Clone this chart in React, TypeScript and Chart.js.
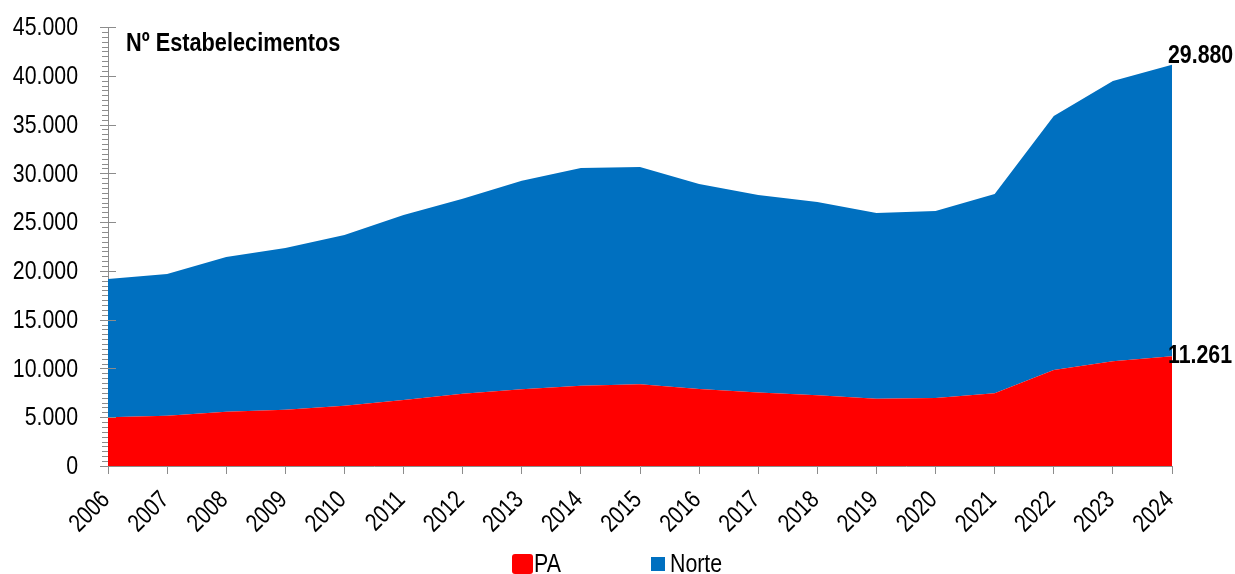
import React, { useEffect, useRef } from 'react';
import { Chart, registerables } from 'chart.js';

Chart.register(...registerables);

const years = ['2006', '2007', '2008', '2009', '2010', '2011', '2012', '2013', '2014', '2015', '2016', '2017', '2018', '2019', '2020', '2021', '2022', '2023', '2024'];
const paValues = [4990, 5160, 5570, 5770, 6180, 6770, 7400, 7880, 8230, 8380, 7900, 7540, 7260, 6900, 6980, 7450, 9840, 10750, 11261];
const norteValues = [14180, 14520, 15850, 16580, 17500, 18960, 20000, 21370, 22320, 22270, 21010, 20240, 19800, 19030, 19160, 20430, 26040, 28710, 29880];
const seriesLabels = ['PA', 'Norte'];
const seriesColors = ['#FF0000', '#0070C0'];
const chartTitle = 'Nº Estabelecimentos';
const yMin = 0;
const yMax = 45000;
const yMajorStep = 5000;
const yMinorStep = 500;

const FONT = "'Liberation Sans', Arial, sans-serif";
const NARROW = 0.82;
const AXIS = '#8C8C8C';

const fmt = (v: number) => String(Math.round(v)).replace(/\B(?=(\d{3})+(?!\d))/g, '.');

function narrowText(ctx: CanvasRenderingContext2D, text: string, x: number, y: number, font: string, align: CanvasTextAlign, baseline: CanvasTextBaseline, rot = 0) {
  ctx.save();
  ctx.translate(x, y);
  if (rot) ctx.rotate(rot);
  ctx.scale(NARROW, 1);
  ctx.font = font;
  ctx.textAlign = align;
  ctx.textBaseline = baseline;
  ctx.fillStyle = '#000';
  ctx.fillText(text, 0, 0);
  ctx.restore();
}

const decor = {
  id: 'decor',
  afterDraw(chart: any) {
    const { ctx, chartArea, scales } = chart;
    const y = scales.y;
    const x = scales.x;
    ctx.save();
    ctx.strokeStyle = AXIS;
    ctx.lineWidth = 1;
    for (let v = yMin; v <= yMax; v += yMinorStep) {
      const py = Math.round(y.getPixelForValue(v)) + 0.5;
      const major = v % yMajorStep === 0;
      ctx.beginPath();
      ctx.moveTo(chartArea.left - (major ? 8 : 6), py);
      ctx.lineTo(chartArea.left + (major ? 8 : 0), py);
      ctx.stroke();
    }
    // y tick labels
    y.ticks.forEach((t: any) => {
      narrowText(ctx, fmt(t.value), chartArea.left - 30, y.getPixelForValue(t.value) + 1, `26px ${FONT}`, 'right', 'middle');
    });
    // x tick labels
    years.forEach((lab, i) => {
      const px = x.getPixelForValue(i);
      narrowText(ctx, lab, px - 2, chartArea.bottom + 30, `25px ${FONT}`, 'right', 'middle', -Math.PI / 4);
    });
    // title
    narrowText(ctx, chartTitle, chartArea.left + 18, chartArea.top + 17, `bold 26.5px ${FONT}`, 'left', 'middle');

    // end labels
    const last = years.length - 1;
    const pPA = chart.getDatasetMeta(0).data[last];
    const pN = chart.getDatasetMeta(1).data[last];
    narrowText(ctx, fmt(paValues[last]), pPA.x - 4, pPA.y, `bold 26px ${FONT}`, 'left', 'middle');
    narrowText(ctx, fmt(norteValues[last]), pN.x - 4, pN.y + 4, `bold 26px ${FONT}`, 'left', 'bottom');

    // legend
    const ly = 564;
    ctx.fillStyle = seriesColors[0];
    ctx.beginPath();
    if ((ctx as any).roundRect) (ctx as any).roundRect(512, ly - 10, 21, 20, 3);
    else ctx.rect(512, ly - 10, 21, 20);
    ctx.fill();
    narrowText(ctx, seriesLabels[0], 534, ly + 1, `26px ${FONT}`, 'left', 'middle');
    ctx.fillStyle = seriesColors[1];
    ctx.fillRect(651, ly - 7, 14, 14);
    narrowText(ctx, seriesLabels[1], 670, ly + 1, `26px ${FONT}`, 'left', 'middle');
    ctx.restore();
  },
};

export default function App() {
  const ref = useRef<HTMLCanvasElement | null>(null);
  useEffect(() => {
    if (!ref.current) return;
    const chart = new Chart(ref.current, {
      type: 'line',
      data: {
        labels: years,
        datasets: [
          {
            label: seriesLabels[0],
            data: paValues,
            backgroundColor: seriesColors[0],
            borderColor: seriesColors[0],
            borderWidth: 0,
            pointRadius: 0,
            fill: 'origin',
            tension: 0,
          },
          {
            label: seriesLabels[1],
            data: norteValues,
            backgroundColor: seriesColors[1],
            borderColor: seriesColors[1],
            borderWidth: 0,
            pointRadius: 0,
            fill: '-1',
            tension: 0,
          },
        ],
      },
      options: {
        animation: false,
        responsive: true,
        maintainAspectRatio: false,
        layout: { padding: { left: 8, right: 63, top: 27, bottom: 0 } },
        plugins: { legend: { display: false }, tooltip: { enabled: false }, title: { display: false } },
        scales: {
          x: {
            type: 'category',
            offset: false,
            grid: { display: true, drawOnChartArea: false, drawTicks: true, tickLength: 8, color: AXIS },
            border: { display: true, color: AXIS, width: 1 },
            ticks: { display: false, autoSkip: false },
            afterFit: (s: any) => { s.height = 108; },
          },
          y: {
            stacked: true,
            min: yMin,
            max: yMax,
            grid: { display: false },
            border: { display: true, color: AXIS, width: 1 },
            ticks: { display: false, stepSize: yMajorStep },
            afterFit: (s: any) => { s.width = 100; },
          },
        },
      },
      plugins: [decor],
    });
    return () => chart.destroy();
  }, []);
  return (
    <div style={{ position: 'fixed', left: 0, top: 0, width: 1235, height: 574, background: '#fff' }}>
      <canvas ref={ref} />
    </div>
  );
}
